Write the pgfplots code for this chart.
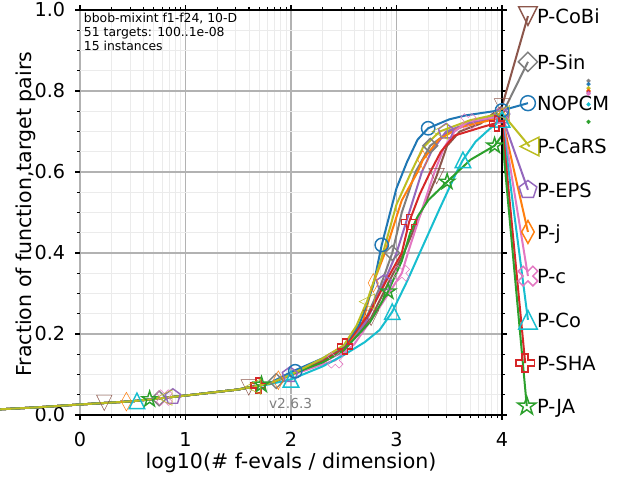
\documentclass[border=0pt]{standalone}
\usepackage{fontspec}
\setmainfont{DejaVu Sans}
\usepackage{pgfplots}
\pgfplotsset{compat=1.18}

\definecolor{cBlue}{HTML}{1F77B4}
\definecolor{cOrange}{HTML}{FF7F0E}
\definecolor{cGreen}{HTML}{2CA02C}
\definecolor{cRed}{HTML}{D62728}
\definecolor{cPurple}{HTML}{9467BD}
\definecolor{cBrown}{HTML}{8C564B}
\definecolor{cPink}{HTML}{E377C2}
\definecolor{cGray}{HTML}{7F7F7F}
\definecolor{cOlive}{HTML}{BCBD22}
\definecolor{cCyan}{HTML}{17BECF}

\pgfdeclareplotmark{mtri}{%
 \pgfpathmoveto{\pgfqpoint{0pt}{\pgfplotmarksize}}%
 \pgfpathlineto{\pgfqpoint{-\pgfplotmarksize}{-\pgfplotmarksize}}%
 \pgfpathlineto{\pgfqpoint{\pgfplotmarksize}{-\pgfplotmarksize}}%
 \pgfpathclose\pgfusepathqstroke}
\pgfdeclareplotmark{mdiam}{%
 \pgfpathmoveto{\pgfqpoint{0pt}{\pgfplotmarksize}}%
 \pgfpathlineto{\pgfqpoint{\pgfplotmarksize}{0pt}}%
 \pgfpathlineto{\pgfqpoint{0pt}{-\pgfplotmarksize}}%
 \pgfpathlineto{\pgfqpoint{-\pgfplotmarksize}{0pt}}%
 \pgfpathclose\pgfusepathqstroke}
\pgfdeclareplotmark{mstar}{%
 \pgfpathmoveto{\pgfqpoint{0pt}{\pgfplotmarksize}}%
 \pgfpathlineto{\pgfqpoint{-0.2245\pgfplotmarksize}{0.3090\pgfplotmarksize}}%
 \pgfpathlineto{\pgfqpoint{-0.9511\pgfplotmarksize}{0.3090\pgfplotmarksize}}%
 \pgfpathlineto{\pgfqpoint{-0.3633\pgfplotmarksize}{-0.1180\pgfplotmarksize}}%
 \pgfpathlineto{\pgfqpoint{-0.5878\pgfplotmarksize}{-0.8090\pgfplotmarksize}}%
 \pgfpathlineto{\pgfqpoint{0pt}{-0.382\pgfplotmarksize}}%
 \pgfpathlineto{\pgfqpoint{0.5878\pgfplotmarksize}{-0.8090\pgfplotmarksize}}%
 \pgfpathlineto{\pgfqpoint{0.3633\pgfplotmarksize}{-0.1180\pgfplotmarksize}}%
 \pgfpathlineto{\pgfqpoint{0.9511\pgfplotmarksize}{0.3090\pgfplotmarksize}}%
 \pgfpathlineto{\pgfqpoint{0.2245\pgfplotmarksize}{0.3090\pgfplotmarksize}}%
 \pgfpathclose\pgfusepathqstroke}
\pgfdeclareplotmark{hplus}{%
 \pgfpathmoveto{\pgfqpoint{-0.333\pgfplotmarksize}{\pgfplotmarksize}}%
 \pgfpathlineto{\pgfqpoint{0.333\pgfplotmarksize}{\pgfplotmarksize}}%
 \pgfpathlineto{\pgfqpoint{0.333\pgfplotmarksize}{0.333\pgfplotmarksize}}%
 \pgfpathlineto{\pgfqpoint{\pgfplotmarksize}{0.333\pgfplotmarksize}}%
 \pgfpathlineto{\pgfqpoint{\pgfplotmarksize}{-0.333\pgfplotmarksize}}%
 \pgfpathlineto{\pgfqpoint{0.333\pgfplotmarksize}{-0.333\pgfplotmarksize}}%
 \pgfpathlineto{\pgfqpoint{0.333\pgfplotmarksize}{-\pgfplotmarksize}}%
 \pgfpathlineto{\pgfqpoint{-0.333\pgfplotmarksize}{-\pgfplotmarksize}}%
 \pgfpathlineto{\pgfqpoint{-0.333\pgfplotmarksize}{-0.333\pgfplotmarksize}}%
 \pgfpathlineto{\pgfqpoint{-\pgfplotmarksize}{-0.333\pgfplotmarksize}}%
 \pgfpathlineto{\pgfqpoint{-\pgfplotmarksize}{0.333\pgfplotmarksize}}%
 \pgfpathlineto{\pgfqpoint{-0.333\pgfplotmarksize}{0.333\pgfplotmarksize}}%
 \pgfpathclose\pgfusepathqstroke}

\pgfplotsset{
 cur/.style={line width=1.5pt, no marks},
 mk/.style={only marks, mark options={line width=1.1pt, solid, fill=none}},
 con/.style={line width=1.5pt, mark indices={2}},
}
\tikzset{lab/.style={anchor=base west, inner sep=0pt, font=\fontsize{14.6}{17}\selectfont}}

\begin{document}
\begin{tikzpicture}
\begin{axis}[
 scale only axis, width=316.5pt, height=303.75pt,
 xmin=0, xmax=4, ymin=0, ymax=1,
 clip=false,
 axis line style={draw=none},
 xtick={0,1,2,3,4}, xticklabels={0,1,2,3,4},
 minor xtick={0.301,0.477,0.602,0.699,0.778,0.845,0.903,0.954,
  1.301,1.477,1.602,1.699,1.778,1.845,1.903,1.954,
  2.301,2.477,2.602,2.699,2.778,2.845,2.903,2.954,
  3.301,3.477,3.602,3.699,3.778,3.845,3.903,3.954},
 ytick={0,0.2,0.4,0.6,0.8,1.0}, yticklabels={0.0,0.2,0.4,0.6,0.8,1.0},
 minor ytick={0.05,0.1,0.15,0.25,0.3,0.35,0.45,0.5,0.55,0.65,0.7,0.75,0.85,0.9,0.95},
 tick align=outside, xtick pos=both, ytick pos=both,
 major tick length=3.5pt, minor tick length=2.4pt,
 every tick/.style={black, line width=0.8pt},
 grid=both,
 major grid style={color=black!30, line width=0.9pt},
 minor grid style={color=black!8, line width=0.7pt},
 xticklabel style={font=\fontsize{14.4}{17}\selectfont, inner sep=0pt, anchor=base, yshift=-20.2pt},
 yticklabel style={font=\fontsize{14.4}{17}\selectfont, inner sep=0pt, anchor=east, xshift=-7.4pt},
]
\coordinate (O) at (rel axis cs:0,0);

% --- curves ---
\addplot[cBrown, cur] coordinates {(-0.76,0.014)(-0.4,0.019)(0,0.026)(0.5,0.034)(1,0.048)(1.5,0.063)(1.8,0.078)(2,0.10)(2.3,0.13)(2.5,0.16)(2.62,0.195)(2.76,0.24)(2.93,0.33)(3.07,0.40)(3.2,0.48)(3.3,0.54)(3.38,0.59)(3.48,0.665)(3.6,0.70)(3.8,0.72)(4,0.762)};
\addplot[cGray, cur] coordinates {(-0.76,0.014)(-0.4,0.019)(0,0.026)(0.5,0.034)(1,0.048)(1.5,0.063)(1.8,0.078)(2,0.10)(2.3,0.135)(2.5,0.162)(2.68,0.22)(2.85,0.32)(2.96,0.40)(3.05,0.5)(3.18,0.6)(3.32,0.665)(3.5,0.70)(3.8,0.728)(4,0.742)};
\addplot[cPurple, cur] coordinates {(-0.76,0.014)(-0.4,0.019)(0,0.026)(0.5,0.034)(1,0.048)(1.5,0.063)(1.8,0.078)(2,0.10)(2.3,0.13)(2.5,0.157)(2.72,0.235)(2.88,0.326)(3.0,0.40)(3.12,0.5)(3.24,0.6)(3.33,0.65)(3.47,0.70)(3.7,0.722)(4,0.738)};
\addplot[cOrange, cur] coordinates {(-0.76,0.014)(-0.4,0.019)(0,0.026)(0.5,0.034)(1,0.048)(1.5,0.063)(1.8,0.078)(2,0.098)(2.3,0.13)(2.5,0.16)(2.68,0.23)(2.78,0.326)(2.89,0.40)(3.05,0.53)(3.2,0.6)(3.25,0.63)(3.4,0.68)(3.6,0.71)(4,0.735)};
\addplot[cPink, cur] coordinates {(-0.76,0.014)(-0.4,0.019)(0,0.026)(0.5,0.034)(1,0.048)(1.5,0.063)(1.8,0.078)(2,0.098)(2.3,0.125)(2.42,0.135)(2.6,0.175)(2.8,0.25)(2.95,0.31)(3.05,0.35)(3.12,0.41)(3.22,0.49)(3.36,0.6)(3.45,0.66)(3.55,0.70)(3.68,0.725)(4,0.738)};
\addplot[cCyan, cur] coordinates {(-0.76,0.014)(-0.4,0.019)(0,0.026)(0.5,0.034)(1,0.048)(1.5,0.063)(1.8,0.076)(2,0.088)(2.3,0.12)(2.5,0.148)(2.7,0.18)(2.84,0.21)(2.96,0.255)(3.1,0.33)(3.22,0.40)(3.41,0.51)(3.57,0.6)(3.63,0.63)(3.75,0.675)(3.89,0.708)(4,0.73)};
\addplot[cRed, cur] coordinates {(-0.76,0.014)(-0.4,0.019)(0,0.026)(0.5,0.034)(1,0.048)(1.5,0.063)(1.8,0.078)(2,0.10)(2.3,0.132)(2.51,0.169)(2.74,0.25)(2.9,0.33)(3.05,0.40)(3.12,0.477)(3.22,0.545)(3.32,0.60)(3.42,0.65)(3.55,0.69)(3.8,0.71)(4,0.725)};
\addplot[cGreen, cur] coordinates {(-0.76,0.014)(-0.4,0.019)(0,0.026)(0.5,0.034)(1,0.048)(1.5,0.063)(1.8,0.078)(2,0.10)(2.3,0.13)(2.5,0.16)(2.75,0.23)(2.92,0.305)(3.05,0.38)(3.13,0.45)(3.2,0.49)(3.3,0.53)(3.48,0.576)(3.7,0.63)(3.93,0.665)(4,0.69)};
\addplot[cBlue, cur] coordinates {(-0.76,0.014)(-0.4,0.019)(0,0.026)(0.5,0.034)(1,0.048)(1.5,0.063)(1.8,0.079)(2,0.106)(2.3,0.14)(2.5,0.17)(2.65,0.225)(2.78,0.32)(2.86,0.42)(3.0,0.56)(3.1,0.625)(3.2,0.68)(3.3,0.708)(3.5,0.73)(3.66,0.74)(3.92,0.75)(4,0.752)};
\addplot[cOlive, cur] coordinates {(-0.76,0.014)(-0.4,0.019)(0,0.026)(0.5,0.034)(1,0.048)(1.5,0.063)(1.8,0.078)(2,0.10)(2.3,0.14)(2.5,0.172)(2.62,0.22)(2.72,0.28)(2.85,0.38)(3.0,0.52)(3.14,0.6)(3.25,0.66)(3.41,0.70)(3.7,0.728)(4,0.745)};

% --- markers along curves ---
\addplot[cBrown, mk, mark=mtri, mark size=5.8pt, mark options={rotate=180}] coordinates {(0.23,0.030)(1.60,0.068)(2.76,0.24)(3.38,0.59)(4,0.762)};
\addplot[cGray, mk, mark=mdiam, mark size=5.5pt] coordinates {(0.75,0.041)(1.86,0.084)(2.96,0.40)(3.32,0.665)(4,0.742)};
\addplot[cPurple, mk, mark=pentagon, mark size=6pt] coordinates {(0.88,0.045)(1.99,0.099)(2.88,0.326)(3.47,0.70)(4,0.738)};
\addplot[cOrange, mk, mark=mdiam, mark size=7pt, mark options={xscale=0.55}] coordinates {(0.44,0.033)(1.88,0.086)(2.78,0.326)(3.25,0.63)(4,0.735)};
\addplot[cPink, mk, mark=hplus, mark size=6.2pt, mark options={rotate=45}] coordinates {(0.8,0.043)(2.42,0.135)(3.05,0.35)(3.68,0.725)(4,0.738)};
\addplot[cCyan, mk, mark=mtri, mark size=5.8pt] coordinates {(0.54,0.035)(2.0,0.088)(2.96,0.255)(3.63,0.63)(4,0.73)};
\addplot[cRed, mk, mark=hplus, mark size=5.6pt] coordinates {(1.69,0.073)(2.51,0.169)(3.12,0.477)(3.95,0.72)};
\addplot[cGreen, mk, mark=mstar, mark size=6pt] coordinates {(0.66,0.039)(1.72,0.075)(2.92,0.305)(3.48,0.576)(3.93,0.665)};
\addplot[cBlue, mk, mark=o, mark size=5pt] coordinates {(2.04,0.108)(2.86,0.42)(3.3,0.708)(4,0.752)};
\addplot[cOlive, mk, mark=mtri, mark size=5.8pt, mark options={rotate=90}] coordinates {(0.80,0.043)(1.64,0.07)(2.72,0.28)(3.41,0.70)(4,0.745)};

% --- connectors to labels ---
\addplot[cBrown, con, mark=mtri, mark size=7pt, mark options={rotate=180, line width=1.1pt, fill=none}] coordinates {(4,0.762)(4.246,0.985)};
\addplot[cGray, con, mark=mdiam, mark size=7.2pt, mark options={line width=1.1pt, fill=none}] coordinates {(4,0.742)(4.246,0.872)};
\addplot[cBlue, con, mark=o, mark size=5.6pt, mark options={line width=1.1pt, fill=none}] coordinates {(4,0.752)(4.246,0.770)};
\addplot[cOlive, con, mark=mtri, mark size=7pt, mark options={rotate=90, line width=1.1pt, fill=none}] coordinates {(4,0.745)(4.262,0.663)};
\addplot[cPurple, con, mark=pentagon, mark size=7pt, mark options={line width=1.1pt, fill=none}] coordinates {(4,0.738)(4.246,0.556)};
\addplot[cOrange, con, mark=mdiam, mark size=8.6pt, mark options={xscale=0.55, line width=1.1pt, fill=none}] coordinates {(4,0.735)(4.246,0.452)};
\addplot[cPink, con, mark=hplus, mark size=7.8pt, mark options={rotate=45, line width=1.1pt, fill=none}] coordinates {(4,0.738)(4.246,0.343)};
\addplot[cCyan, con, mark=mtri, mark size=7pt, mark options={line width=1.1pt, fill=none}] coordinates {(4,0.73)(4.246,0.235)};
\addplot[cRed, con, mark=hplus, mark size=6.8pt, mark options={line width=1.1pt, fill=none}] coordinates {(4,0.725)(4.22,0.128)};
\addplot[cGreen, con, mark=mstar, mark size=7.2pt, mark options={line width=1.1pt, fill=none}] coordinates {(4,0.69)(4.235,0.022)};

% --- spines ---
\draw[black, line width=0.8pt] (axis cs:0,1) -- (axis cs:4,1);
\draw[black, line width=0.8pt] (axis cs:0,0) -- (axis cs:4,0);
\draw[black, line width=2pt] (axis cs:4,0) -- (axis cs:4,1);

% --- labels ---
\node[lab] at (axis cs:4.33,0.967) {P-CoBi};
\node[lab] at (axis cs:4.33,0.854) {P-Sin};
\node[lab] at (axis cs:4.33,0.752) {NOPCM};
\node[lab] at (axis cs:4.33,0.645) {P-CaRS};
\node[lab] at (axis cs:4.33,0.538) {P-EPS};
\node[lab] at (axis cs:4.33,0.434) {P-j};
\node[lab] at (axis cs:4.33,0.325) {P-c};
\node[lab] at (axis cs:4.33,0.217) {P-Co};
\node[lab] at (axis cs:4.33,0.110) {P-SHA};
\node[lab] at (axis cs:4.33,0.004) {P-JA};

% --- small end dots ---
\addplot[cGray, only marks, mark=*, mark size=1.4pt] coordinates {(4.82,0.825)};
\addplot[cBlue, only marks, mark=*, mark size=1.4pt] coordinates {(4.82,0.817)};
\addplot[cOlive, only marks, mark=*, mark size=1.4pt] coordinates {(4.82,0.807)};
\addplot[cOrange, only marks, mark=*, mark size=1.4pt] coordinates {(4.82,0.801)};
\addplot[cRed, only marks, mark=*, mark size=1.4pt] coordinates {(4.82,0.798)};
\addplot[cPurple, only marks, mark=*, mark size=1.4pt] coordinates {(4.82,0.795)};
\addplot[cPink, only marks, mark=*, mark size=1.4pt] coordinates {(4.82,0.793)};
\addplot[cCyan, only marks, mark=*, mark size=1.4pt] coordinates {(4.82,0.767)};
\addplot[cGreen, only marks, mark=*, mark size=1.4pt] coordinates {(4.82,0.724)};

% --- annotations ---
\node[anchor=base west, inner sep=0pt, font=\fontsize{9.3}{11}\selectfont] at (axis cs:0.035,0.9696) {bbob-mixint f1-f24, 10-D};
\node[anchor=base west, inner sep=0pt, font=\fontsize{9.3}{11}\selectfont] at (axis cs:0.035,0.934) {51 targets: 100..1e-08};
\node[anchor=base west, inner sep=0pt, font=\fontsize{9.3}{11}\selectfont] at (axis cs:0.035,0.901) {15 instances};
\node[anchor=base west, inner sep=0pt, text=black!50, font=\fontsize{10.3}{12}\selectfont] at (axis cs:1.79,0.017) {v2.6.3};
\node[anchor=base, inner sep=0pt, font=\fontsize{15.4}{18}\selectfont] at (axis cs:2.0,-0.131) {log10(\# f-evals / dimension)};
\node[anchor=base, rotate=90, inner sep=0pt, font=\fontsize{15.4}{18}\selectfont] at (axis cs:-0.458,0.496) {Fraction of function,target pairs};
\end{axis}
\pgfresetboundingbox
\useasboundingbox ([xshift=-60pt,yshift=-48.75pt]O) rectangle ([xshift=420pt,yshift=311.25pt]O);
\end{tikzpicture}
\end{document}
